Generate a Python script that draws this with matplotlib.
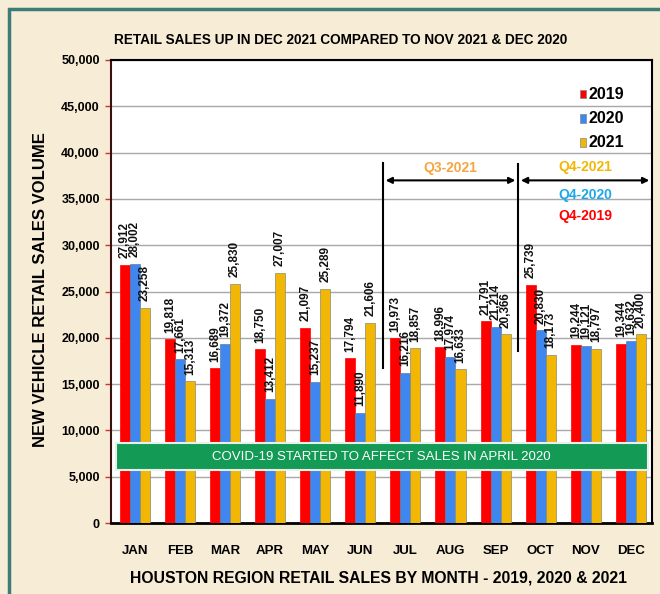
import matplotlib
matplotlib.use("Agg")
import matplotlib.pyplot as plt
import numpy as np
from matplotlib.patches import Rectangle
import matplotlib.transforms as mtransforms

months = ["JAN", "FEB", "MAR", "APR", "MAY", "JUN", "JUL", "AUG", "SEP", "OCT", "NOV", "DEC"]
sales_2019 = [27912, 19818, 16689, 18750, 21097, 17794, 19973, 18996, 21791, 25739, 19244, 19344]
sales_2020 = [28002, 17661, 19372, 13412, 15237, 11890, 16216, 17974, 21214, 20830, 19121, 19632]
sales_2021 = [23258, 15313, 25830, 27007, 25289, 21606, 18857, 16633, 20366, 18173, 18797, 20400]
series_names = ["2019", "2020", "2021"]
colors = ["#FF0000", "#3F86EE", "#F2B705"]
yticks = list(range(0, 50001, 5000))

plt.rcParams['font.family'] = ['Liberation Sans', 'DejaVu Sans']

fig = plt.figure(figsize=(6.6, 5.94), dpi=100, facecolor="#F7ECD6")
ax = fig.add_axes([0.168, 0.1195, 0.820, 0.7795])
ax.set_facecolor("white")

# teal frame
fig.patches.append(Rectangle((9/660, -0.05), 1.2, 1 - 9/594 + 0.05, transform=fig.transFigure,
                             fill=False, edgecolor="#3E7C7A", linewidth=2.5, zorder=0))

x = np.arange(len(months))
w = 0.222
all_series = [sales_2019, sales_2020, sales_2021]
edges = ["#FF0000", "#5a7fa8", "#8a8a70"]
for i, (vals, c) in enumerate(zip(all_series, colors)):
    pos = x + (i - 1) * w
    ax.bar(pos, vals, width=w, color=c, edgecolor=edges[i], linewidth=0.5, zorder=3, label=series_names[i])
    for xp, v in zip(pos, vals):
        ax.text(xp, v + 700, f"{v:,}", rotation=90, ha="center", va="bottom",
                fontsize=8.5, fontweight="bold", color="#111111", zorder=5)

ax.set_xlim(-0.53, 11.47)
ax.set_ylim(0, 50000)
ax.set_yticks(yticks)
ax.set_yticklabels([f"{t:,}" for t in yticks], fontsize=9, fontweight="bold")
ax.yaxis.grid(True, color="#A8A8A8", linewidth=1, zorder=0)
ax.tick_params(axis="y", colors="#D03030", length=4, width=1, labelcolor="black", pad=4)
ax.set_xticks(x)
ax.set_xticklabels(months, fontsize=9.5, fontweight="bold")
ax.tick_params(axis="x", length=0, pad=16)
ax.spines["left"].set_color("#3a1010")
ax.spines["left"].set_linewidth(1.5)
ax.spines["bottom"].set_linewidth(2)
ax.spines["top"].set_linewidth(1.5)
ax.spines["right"].set_linewidth(1.5)

# legend (manual)
for i, (n, c) in enumerate(zip(series_names, colors)):
    ya = 0.925 - i * 0.052
    ax.add_patch(Rectangle((0.866, ya - 0.008), 0.011, 0.018, transform=ax.transAxes,
                           facecolor=c, edgecolor="#7a8a90", linewidth=0.5, zorder=6))
    ax.text(0.882, ya, n, transform=ax.transAxes, fontsize=11.5, fontweight="bold",
            va="center", ha="left", zorder=6)

# COVID banner
trans = mtransforms.blended_transform_factory(ax.transAxes, ax.transData)
ax.add_patch(Rectangle((0.009, 5700), 0.984, 2950, transform=trans, facecolor="#139A55",
                       edgecolor="#E8F0EA", linewidth=1.5, zorder=7))
ax.text(0.5, 7175, "COVID-19 STARTED TO AFFECT SALES IN APRIL 2020", transform=trans,
        ha="center", va="center", color="white", fontsize=9.5, zorder=8)

# quarter markers
ax.plot([5.5, 5.5], [16700, 38900], color="black", lw=1.5, zorder=6)
ax.plot([8.5, 8.5], [18600, 38800], color="black", lw=1.5, zorder=6)
ax.annotate("", xy=(5.5, 37000), xytext=(8.5, 37000),
            arrowprops=dict(arrowstyle="<|-|>", color="black", lw=1.5, mutation_scale=9), zorder=6)
ax.annotate("", xy=(8.5, 37000), xytext=(11.47, 37000),
            arrowprops=dict(arrowstyle="<|-|>", color="black", lw=1.5, mutation_scale=9), zorder=6)
ax.text(7.0, 38300, "Q3-2021", color="#F4A640", fontsize=10, fontweight="bold", ha="center", va="center", zorder=6)
ax.text(10.0, 38400, "Q4-2021", color="#F2B705", fontsize=10, fontweight="bold", ha="center", va="center", zorder=6)
ax.text(10.0, 35450, "Q4-2020", color="#1CA8EE", fontsize=10, fontweight="bold", ha="center", va="center", zorder=6)
ax.text(10.0, 33100, "Q4-2019", color="#FF0000", fontsize=10, fontweight="bold", ha="center", va="center", zorder=6)

fig.text(0.516, 0.933, "RETAIL SALES UP IN DEC 2021 COMPARED TO NOV 2021 & DEC 2020",
         ha="center", va="center", fontsize=9.8, fontweight="bold")
fig.text(0.061, 0.512, "NEW VEHICLE RETAIL SALES VOLUME", rotation=90, ha="center", va="center",
         fontsize=12, fontweight="bold")
fig.text(0.574, 0.027, "HOUSTON REGION RETAIL SALES BY MONTH - 2019, 2020 & 2021",
         ha="center", va="center", fontsize=11.3, fontweight="bold")

fig.savefig("out.png", dpi=100, facecolor=fig.get_facecolor())
